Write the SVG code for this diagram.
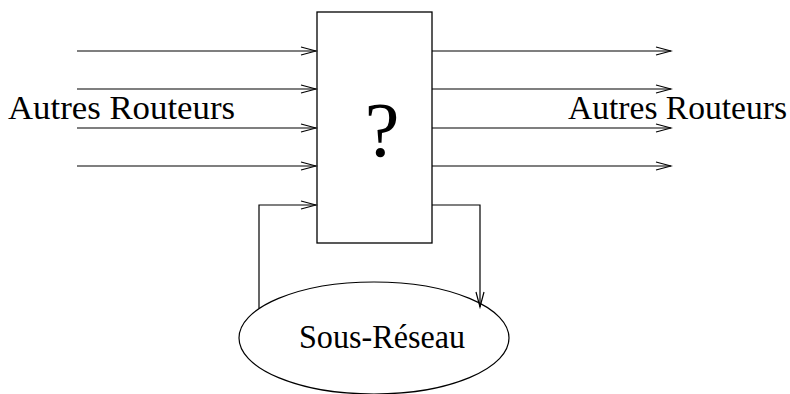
<svg xmlns="http://www.w3.org/2000/svg" width="790" height="394" viewBox="0 0 790 394">
<style>
.ln{fill:none;stroke:#000;stroke-width:1.2}
.box{fill:none;stroke:#000;stroke-width:1.3}
.t{font-family:"Liberation Serif","DejaVu Serif",serif;fill:#000}
</style>
<defs>
<marker id="ah" markerWidth="18" markerHeight="10" refX="16" refY="5" orient="auto" markerUnits="userSpaceOnUse">
<path d="M1,1 L16,5 L1,9" fill="none" stroke="#000" stroke-width="1.2"/>
</marker>
</defs>
<rect width="790" height="394" fill="#fff"/>
<g id="connectors">
<line class="ln" x1="77" y1="51" x2="316" y2="51" marker-end="url(#ah)"/>
<line class="ln" x1="77" y1="89" x2="316" y2="89" marker-end="url(#ah)"/>
<line class="ln" x1="77" y1="128" x2="316" y2="128" marker-end="url(#ah)"/>
<line class="ln" x1="77" y1="166" x2="316" y2="166" marker-end="url(#ah)"/>
<line class="ln" x1="432" y1="51" x2="671" y2="51" marker-end="url(#ah)"/>
<line class="ln" x1="432" y1="89" x2="671" y2="89" marker-end="url(#ah)"/>
<line class="ln" x1="432" y1="128" x2="671" y2="128" marker-end="url(#ah)"/>
<line class="ln" x1="432" y1="166" x2="671" y2="166" marker-end="url(#ah)"/>
<polyline class="ln" points="259,308 259,205 316,205" marker-end="url(#ah)"/>
<polyline class="ln" points="432,205 480,205 480,307" marker-end="url(#ah)"/>
</g>
<g id="router">
<rect class="box" x="317" y="12" width="115" height="231"/>
<text class="t" x="382" y="156" font-size="78" text-anchor="middle">?</text>
</g>
<g id="subnet">
<ellipse class="ln" cx="374" cy="338" rx="135" ry="56"/>
<text class="t" x="299" y="348" font-size="33" textLength="166" lengthAdjust="spacingAndGlyphs">Sous-Réseau</text>
</g>
<g id="left-label">
<text class="t" x="8" y="119" font-size="33" textLength="227" lengthAdjust="spacingAndGlyphs">Autres Routeurs</text>
</g>
<g id="right-label">
<text class="t" x="568" y="119" font-size="33" textLength="219" lengthAdjust="spacingAndGlyphs">Autres Routeurs</text>
</g>
</svg>
